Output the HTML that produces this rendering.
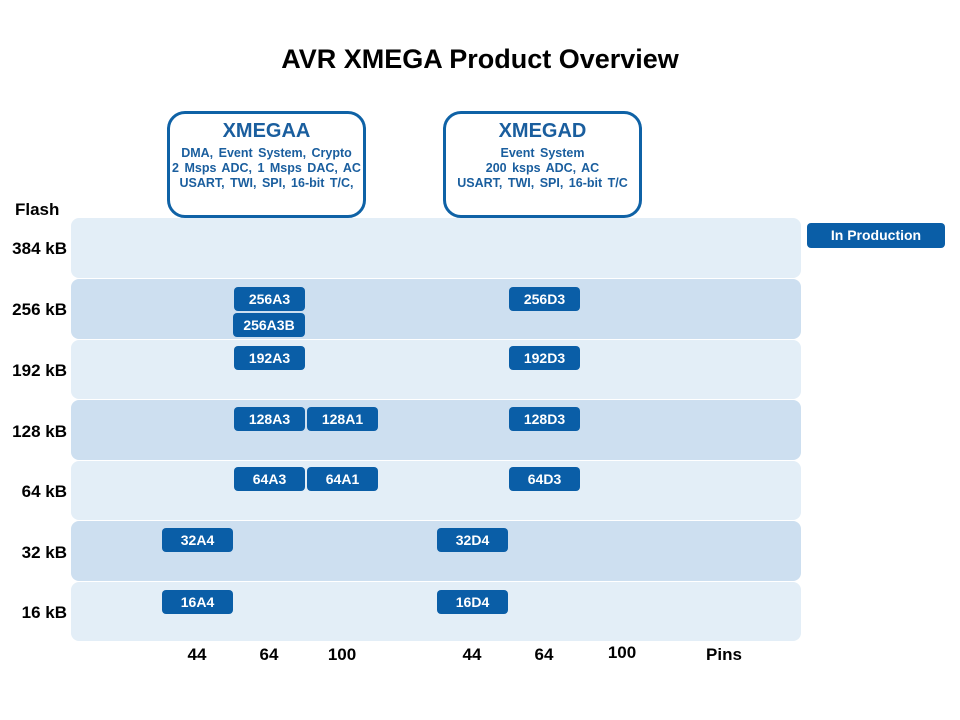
<!DOCTYPE html>
<html><head><style>
body{margin:0;width:960px;height:720px;background:#fff;font-family:"Liberation Sans",Arial,sans-serif;position:relative;overflow:hidden}
div{position:absolute;box-sizing:border-box}
.t{font-weight:bold;color:#000;white-space:nowrap}
.row{left:71px;width:730px;border-radius:8px}
.l{background:#e3eef7}.d{background:#cddff0}
.c{background:#0a5ea7;color:#fff;font-weight:bold;font-size:14px;border-radius:4px;text-align:center;line-height:24px;height:24px;width:71px}
.box{border:3px solid #0f62a6;border-radius:18px;background:#fff;color:#1a5e9e;text-align:center;font-weight:bold}
.box .h{font-size:20px;margin-top:6px}
.box .s{font-size:12.5px;line-height:15px;margin-top:3px;word-spacing:2px;white-space:nowrap}
.yl{font-size:17px;left:0;width:70px;text-align:right;padding-right:3px}
.pl{font-size:17px;top:645px;width:60px;text-align:center}
</style></head><body>
<div class="t" style="left:0;width:960px;top:44px;text-align:center;font-size:27px">AVR XMEGA Product Overview</div>
<div class="box" style="left:167px;top:111px;width:199px;height:107px"><div class="h" style="position:static">XMEGAA</div><div class="s" style="position:static">DMA, Event System, Crypto<br>2 Msps ADC, 1 Msps DAC, AC<br>USART, TWI, SPI, 16-bit T/C,</div></div>
<div class="box" style="left:443px;top:111px;width:199px;height:107px"><div class="h" style="position:static">XMEGAD</div><div class="s" style="position:static">Event System<br>200 ksps ADC, AC<br>USART, TWI, SPI, 16-bit T/C</div></div>
<div class="t" style="left:15px;top:200px;font-size:17px">Flash</div>
<div class="row l" style="top:218px;height:60px"></div>
<div class="row d" style="top:279px;height:60px"></div>
<div class="row l" style="top:340px;height:59px"></div>
<div class="row d" style="top:400px;height:60px"></div>
<div class="row l" style="top:461px;height:59px"></div>
<div class="row d" style="top:521px;height:60px"></div>
<div class="row l" style="top:582px;height:59px"></div>
<div class="t yl" style="top:239px">384 kB</div>
<div class="t yl" style="top:300px">256 kB</div>
<div class="t yl" style="top:361px">192 kB</div>
<div class="t yl" style="top:422px">128 kB</div>
<div class="t yl" style="top:482px">64 kB</div>
<div class="t yl" style="top:543px">32 kB</div>
<div class="t yl" style="top:603px">16 kB</div>
<div class="c" style="left:807px;top:223px;width:138px;height:25px;line-height:25px">In Production</div>
<div class="c" style="left:234px;top:287px">256A3</div>
<div class="c" style="left:233px;top:313px;width:72px">256A3B</div>
<div class="c" style="left:234px;top:346px">192A3</div>
<div class="c" style="left:234px;top:407px">128A3</div>
<div class="c" style="left:307px;top:407px">128A1</div>
<div class="c" style="left:234px;top:467px">64A3</div>
<div class="c" style="left:307px;top:467px">64A1</div>
<div class="c" style="left:162px;top:528px">32A4</div>
<div class="c" style="left:162px;top:590px">16A4</div>
<div class="c" style="left:509px;top:287px">256D3</div>
<div class="c" style="left:509px;top:346px">192D3</div>
<div class="c" style="left:509px;top:407px">128D3</div>
<div class="c" style="left:509px;top:467px">64D3</div>
<div class="c" style="left:437px;top:528px">32D4</div>
<div class="c" style="left:437px;top:590px">16D4</div>
<div class="t pl" style="left:167px">44</div>
<div class="t pl" style="left:239px">64</div>
<div class="t pl" style="left:312px">100</div>
<div class="t pl" style="left:442px">44</div>
<div class="t pl" style="left:514px">64</div>
<div class="t pl" style="left:592px;top:643px">100</div>
<div class="t pl" style="left:694px">Pins</div>
</body></html>
